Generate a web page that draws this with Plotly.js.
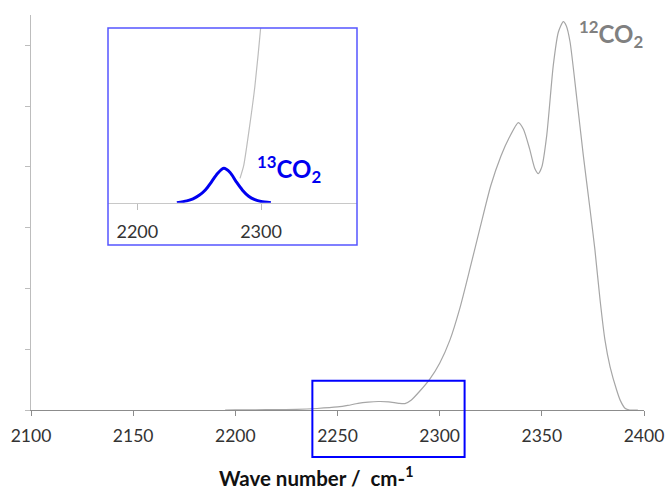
<!DOCTYPE html>
<html>
<head>
<meta charset="utf-8">
<script src="https://cdn.plot.ly/plotly-3.0.1.min.js"></script>
<style>html,body{margin:0;padding:0;background:#fff}#chart{width:667px;height:489px}</style>
</head>
<body>
<div id="chart"></div>
<script>
// Main spectrum (12CO2 band incl. small 13CO2 shoulder)
const waveNumber = [2195, 2200, 2210, 2220, 2230, 2240, 2250, 2255, 2260, 2265, 2270, 2275, 2280, 2283, 2286, 2290, 2295, 2300, 2305, 2310, 2315, 2320, 2325, 2330, 2334, 2338.5, 2341, 2344, 2346.5, 2348.3, 2350, 2352.4, 2355.6, 2358.1, 2360.5, 2362, 2363.8, 2367.1, 2370.3, 2373.6, 2376, 2378.5, 2380.9, 2383.4, 2386.6, 2388.5, 2390.7, 2393, 2397];
const absorbance = [0, 0.002, 0.004, 0.006, 0.01, 0.025, 0.05, 0.075, 0.11, 0.13, 0.14, 0.135, 0.11, 0.105, 0.16, 0.3, 0.5, 0.77, 1.15, 1.69, 2.35, 3.03, 3.69, 4.18, 4.48, 4.73, 4.62, 4.3, 3.98, 3.89, 4.0, 4.52, 5.67, 6.22, 6.39, 6.32, 6.06, 5.13, 4.19, 3.3, 2.63, 1.81, 1.15, 0.71, 0.33, 0.15, 0.03, 0.0, 0];
// 13CO2 fitted band (inset)
const c13Wave = [2232, 2240, 2245, 2250, 2255, 2260, 2265, 2270, 2275, 2280, 2285, 2290, 2295, 2300, 2308];
const c13Abs  = [0.0, 0.008, 0.017, 0.032, 0.055, 0.09, 0.127, 0.148, 0.13, 0.09, 0.054, 0.028, 0.013, 0.005, 0.0];
const insetStart = 2282;
const xTickLabels = ['2100', '2150', '2200', '2250', '2300', '2350', '2400'];
const xAxisTitle = '<b>Wave number /  cm-<sup>1</sup></b>';

const insetWave = [], insetAbs = [];
waveNumber.forEach((w, i) => { if (w >= insetStart) { insetWave.push(w); insetAbs.push(absorbance[i]); } });

const FONT = 'Lato, "Open Sans", sans-serif';
const traces = [
  {x: waveNumber, y: absorbance, type: 'scatter', mode: 'lines',
   line: {color: '#a6a6a6', width: 1.2, shape: 'spline', smoothing: 0.6}, xaxis: 'x', yaxis: 'y', hoverinfo: 'skip'},
  {x: insetWave, y: insetAbs, type: 'scatter', mode: 'lines',
   line: {color: '#bdbdbd', width: 1.2, shape: 'spline', smoothing: 0.6}, xaxis: 'x2', yaxis: 'y2', hoverinfo: 'skip'},
  {x: c13Wave, y: c13Abs, type: 'scatter', mode: 'lines',
   line: {color: '#0000f0', width: 3, shape: 'spline', smoothing: 0.8}, xaxis: 'x2', yaxis: 'y2', hoverinfo: 'skip'}
];

const pxX = p => (p - 31) / 613;
const pxY = p => (410 - p) / 395;

const layout = {
  width: 667, height: 489,
  margin: {l: 31, r: 23, t: 15, b: 79},
  paper_bgcolor: '#fff', plot_bgcolor: 'rgba(0,0,0,0)',
  showlegend: false,
  font: {family: FONT, color: '#333'},
  xaxis: {
    domain: [0, 1], range: [2100, 2400],
    tickvals: xTickLabels.map(Number), ticktext: xTickLabels,
    ticks: 'outside', ticklen: 5, tickcolor: '#8c8c8c', tickwidth: 1,
    ticklabelstandoff: 5,
    showline: true, linecolor: '#8c8c8c', linewidth: 1,
    showgrid: false, zeroline: false,
    tickfont: {family: FONT, size: 17.5, color: '#333'}
  },
  yaxis: {
    domain: [0, 1], range: [0, 6.5], dtick: 1, tick0: 0,
    ticks: 'outside', ticklen: 5, tickcolor: '#bdbdbd',
    showticklabels: false, showline: true, linecolor: '#bdbdbd', linewidth: 1,
    showgrid: false, zeroline: false
  },
  xaxis2: {
    domain: [pxX(108), pxX(357)], range: [2176.3, 2377.6], anchor: 'y2',
    dtick: 100, tick0: 2200,
    ticks: 'outside', ticklen: 6, tickcolor: '#bdbdbd',
    ticklabelstandoff: 7,
    showline: true, linecolor: '#c8c8c8', linewidth: 1,
    showgrid: false, zeroline: false,
    tickfont: {family: FONT, size: 18, color: '#333'}
  },
  yaxis2: {
    domain: [pxY(202.7), pxY(28)], range: [0, 0.753], anchor: 'x2',
    visible: false, showgrid: false, zeroline: false
  },
  shapes: [
    {type: 'rect', xref: 'paper', yref: 'paper', x0: pxX(108), x1: pxX(357), y0: pxY(245), y1: pxY(28),
     line: {color: '#5555ff', width: 1.5}},
    {type: 'rect', xref: 'x', yref: 'paper', x0: 2237.7, x1: 2312.2, y0: pxY(457), y1: pxY(380.7),
     line: {color: '#0000ff', width: 2}}
  ],
  annotations: [
    {xref: 'paper', yref: 'paper', x: pxX(315.5), y: pxY(476), xanchor: 'center', yanchor: 'middle', showarrow: false,
     text: xAxisTitle, font: {family: FONT, size: 20.5, color: '#111'}},
    {xref: 'paper', yref: 'paper', x: pxX(577), y: pxY(34), xanchor: 'left', yanchor: 'middle', showarrow: false,
     text: '<b><sup>12</sup>CO<sub>2</sub></b>', font: {family: FONT, size: 24, color: '#808080'}},
    {xref: 'paper', yref: 'paper', x: pxX(255), y: pxY(169), xanchor: 'left', yanchor: 'middle', showarrow: false,
     text: '<b><sup>13</sup>CO<sub>2</sub></b>', font: {family: FONT, size: 24, color: '#0000f0'}}
  ]
};

Plotly.newPlot('chart', traces, layout, {staticPlot: true, displayModeBar: false});
</script>
</body>
</html>
